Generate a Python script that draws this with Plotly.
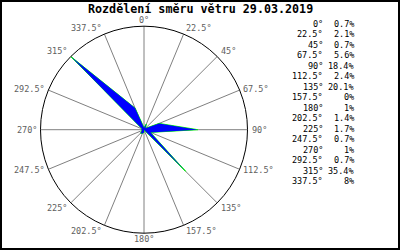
import math
import plotly.graph_objects as go

W, H = 400, 250

directions = [0, 22.5, 45, 67.5, 90, 112.5, 135, 157.5, 180, 202.5, 225, 247.5, 270, 292.5, 315, 337.5]
dir_labels = ["0°", "22.5°", "45°", "67.5°", "90°", "112.5°", "135°", "157.5°", "180°",
              "202.5°", "225°", "247.5°", "270°", "292.5°", "315°", "337.5°"]
percents = [0.7, 2.1, 0.7, 5.6, 18.4, 2.4, 20.1, 0.0, 1.0, 1.4, 1.7, 0.7, 1.0, 0.7, 35.4, 8.0]
pct_labels = ["0.7%", "2.1%", "0.7%", "5.6%", "18.4%", "2.4%", "20.1%", "0%", "1%",
              "1.4%", "1.7%", "0.7%", "1%", "0.7%", "35.4%", "8%"]
title_text = "Rozdělení směru větru 29.03.2019"

MONO = "DejaVu Sans Mono"

fig = go.Figure()
fig.add_trace(go.Scatterpolar(
    r=percents + [percents[0]], theta=directions + [directions[0]],
    mode="lines", fill="toself", fillcolor="#00ff00",
    line=dict(color="#00ff00", width=1), hoverinfo="skip", showlegend=False))
fig.add_trace(go.Scatterpolar(
    r=percents + [percents[0]], theta=directions + [directions[0]],
    mode="lines", fill="toself", fillcolor="#0000ff",
    line=dict(color="#0000ff", width=0), hoverinfo="skip", showlegend=False))

cx, cy, rad = 144, 129.7, 103.5
fig.update_layout(
    width=W, height=H, margin=dict(l=0, r=0, t=0, b=0),
    paper_bgcolor="white", plot_bgcolor="white",
    showlegend=False,
    polar=dict(
        domain=dict(x=[(cx - rad) / W, (cx + rad) / W],
                    y=[(H - cy - rad) / H, (H - cy + rad) / H]),
        bgcolor="white",
        radialaxis=dict(visible=False, range=[0, max(percents)]),
        angularaxis=dict(
            rotation=90, direction="clockwise",
            tickmode="array", tickvals=directions, ticktext=dir_labels,
            ticks="", showticklabels=False,
            showline=True, linecolor="black", linewidth=1,
            showgrid=True, gridcolor="#808080", gridwidth=1,
        ),
    ),
)

annotations = [dict(
    text="<b>" + title_text + "</b>", x=0.5, y=(H - 9) / H, xref="paper", yref="paper",
    xanchor="center", yanchor="middle", showarrow=False,
    font=dict(family=MONO, size=11.7, color="black"))]

# angular labels placed just outside the circle
for ang, lab in zip(directions, dir_labels):
    s, c = math.sin(math.radians(ang)), math.cos(math.radians(ang))
    px = cx + (rad + 2) * s
    py = cy - (rad + 2) * c
    xa = "left" if s > 0.1 else ("right" if s < -0.1 else "center")
    ya = "bottom" if c > 0.5 else ("top" if c < -0.5 else "middle")
    if ya == "bottom":
        py += 3
    elif ya == "top":
        py -= 3
    annotations.append(dict(text=lab, x=px / W, y=(H - py) / H, xref="paper", yref="paper",
                            xanchor=xa, yanchor=ya, showarrow=False,
                            font=dict(family=MONO, size=8.5, color="#606060")))

for i, (dl, pl) in enumerate(zip(dir_labels, pct_labels)):
    y = (H - (24 + 10.47 * i)) / H
    annotations.append(dict(text=dl, x=325 / W, y=y, xref="paper", yref="paper",
                            xanchor="right", yanchor="middle", showarrow=False,
                            font=dict(family=MONO, size=8.5, color="black")))
    annotations.append(dict(text=pl, x=356 / W, y=y, xref="paper", yref="paper",
                            xanchor="right", yanchor="middle", showarrow=False,
                            font=dict(family=MONO, size=8.5, color="black")))
fig.update_layout(annotations=annotations)

fig.add_shape(type="rect", xref="paper", yref="paper",
              x0=1 / W, y0=1 / H, x1=1 - 1 / W, y1=1 - 1 / H,
              line=dict(color="black", width=2), fillcolor="rgba(0,0,0,0)")

fig.write_html("out.html")
